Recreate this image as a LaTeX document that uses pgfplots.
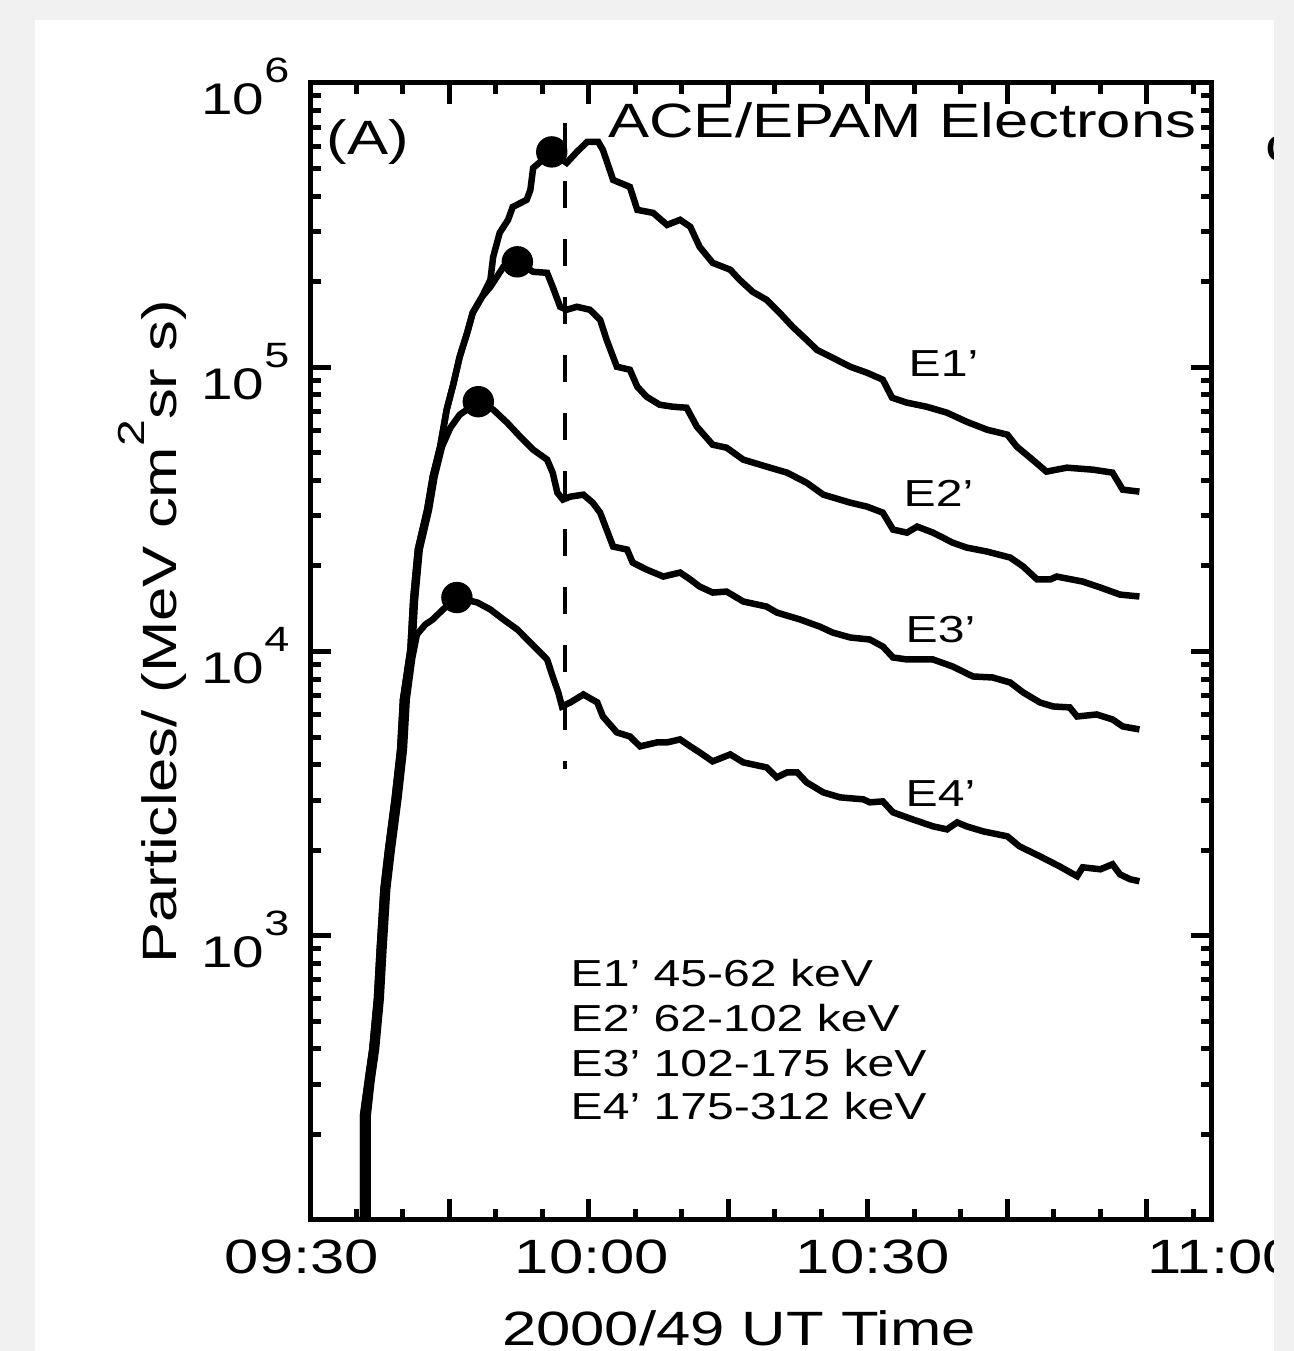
\documentclass[border=0pt]{standalone}
\usepackage{fontspec}
\setmainfont{Liberation Sans}[FakeStretch=1.28]
\usepackage{pgfplots}
\usepackage{pgfplotstable}
\pgfplotsset{compat=1.18}

\definecolor{bgray}{RGB}{241,241,241}
\newcommand\lbl{\fontsize{13.7}{16}\selectfont}
\newcommand\sml{\fontsize{10.7}{13}\selectfont}
\newcommand\sups[1]{\raisebox{3.2mm}{\fontsize{10.7}{12}\selectfont #1}}
\newcommand\ylab[1]{\fontsize{12.6}{15}\selectfont 10\raisebox{3.2mm}{\fontsize{10}{12}\selectfont #1}}

% t = minutes after 09:30 UT, flux in particles/(MeV cm^2 sr s)
\pgfplotstableread{
t flux
5.4 73
5.7 103
5.7 232
6.2 306
6.7 399
7.2 598
7.5 897
7.9 1456
8.4 2014
9.1 3020
9.7 4529
10.0 6776
10.8 10160
11.1 15240
11.6 22860
12.6 31550
13.2 41220
14.0 52600
14.7 70950
15.4 86800
16.1 108900
16.9 132100
17.5 155500
18.5 177000
19.4 203100
19.7 244500
20.4 297200
21.3 330100
21.8 366500
23.3 388000
23.7 420700
24.0 502500
26.0 572200
27.6 523600
28.7 572200
29.8 620400
31.0 620400
31.5 581600
32.6 456000
34.4 430900
35.2 357800
36.9 349200
38.4 316700
39.8 330100
40.9 311900
41.9 265200
43.3 233000
45.2 220300
46.2 203100
47.6 184300
49.1 172700
50.5 155500
51.9 138800
53.4 124900
54.5 115200
56.2 108000
58.1 100400
59.9 95660
61.6 90400
62.6 78130
64.2 75050
66.3 72640
68.5 69210
70.6 64340
72.8 60310
75.0 57910
76.0 52600
77.7 47300
79.2 42930
81.4 44330
84.2 43620
86.3 42580
87.4 37100
89.2 36510
}\eone

\pgfplotstableread{
t flux
5.4 73
5.7 103
5.7 232
6.2 306
6.7 399
7.2 598
7.5 897
7.9 1456
8.4 2014
9.1 3020
9.7 4529
10.0 6776
10.8 10160
11.1 15240
11.6 22860
12.6 31550
13.2 41220
14.0 52600
14.7 70950
15.4 86800
16.1 108900
16.9 132100
17.5 155500
18.5 177000
19.4 191900
20.1 208000
20.8 225600
22.3 234900
24.0 216600
25.5 214900
26.1 191900
26.9 163200
27.6 159300
28.7 163200
30.1 159300
31.2 146900
31.9 124900
33.0 100400
34.4 98000
35.2 85410
36.2 78760
37.6 73830
39.0 72640
40.5 72050
41.6 61800
43.3 53400
44.8 52120
46.6 47300
49.1 44700
51.3 42580
53.4 39260
55.2 35630
58.1 33390
59.9 32330
61.6 30800
62.7 26840
64.2 26190
65.3 27500
67.0 26190
69.1 24160
70.6 23210
72.8 22470
75.3 21400
76.7 19900
78.2 17920
79.6 17920
80.3 18350
83.1 17620
85.0 16790
87.1 15860
89.2 15610
}\etwo

\pgfplotstableread{
t flux
5.6 73
5.9 103
5.9 232
6.4 306
6.9 399
7.4 598
7.7 897
8.1 1456
8.6 2014
9.3 3020
9.9 4529
10.2 6776
11.0 10160
11.3 15240
11.8 22860
12.8 31550
13.4 41220
14.2 52600
15.1 61290
16.1 68080
18.1 75650
19.7 70950
21.2 63820
22.6 56990
24.0 51290
25.5 47300
26.1 42580
26.6 36220
27.2 34220
28.0 35060
29.4 35630
30.4 33390
31.2 30800
31.9 26840
32.6 23390
34.1 22830
34.7 20550
36.2 19420
38.0 18350
39.8 18960
40.9 17920
41.9 16920
43.3 16120
44.8 16250
46.6 14990
49.1 14390
50.2 13710
52.7 12960
54.8 12240
56.2 11660
58.1 11200
60.2 11020
61.6 10410
62.7 9526
64.2 9373
67.0 9373
69.1 8859
71.3 8168
73.4 8102
75.3 7780
76.7 7176
78.5 6618
79.9 6408
81.7 6357
82.5 5907
84.6 6004
86.3 5768
87.4 5450
89.2 5319
}\ethree

\pgfplotstableread{
t flux
5.9 73
6.2 103
6.2 232
6.6 306
7.1 399
7.6 598
7.9 897
8.3 1456
8.8 2014
9.5 3020
10.1 4529
10.4 6776
11.0 9500
11.5 11480
12.4 12440
13.2 12960
14.3 14050
15.8 15480
18.0 14870
19.4 14050
20.8 12960
22.3 11950
23.7 10750
25.5 9373
26.1 8168
26.7 7176
27.1 6408
28.0 6618
29.4 7061
30.9 6618
31.5 5907
33.0 5191
34.4 5025
35.5 4636
37.3 4787
38.4 4787
39.8 4906
40.9 4636
41.9 4416
43.3 4106
45.2 4345
46.6 4072
49.1 3911
50.2 3607
51.3 3756
52.4 3756
53.4 3464
55.2 3194
57.0 3068
59.5 3019
60.2 2946
61.6 2970
62.7 2717
64.8 2567
67.0 2426
68.5 2367
69.6 2505
70.6 2426
72.4 2329
75.0 2237
76.3 2063
78.5 1903
80.6 1755
82.5 1619
83.1 1741
85.0 1713
86.3 1784
87.1 1645
88.2 1580
89.2 1555
}\efour

\begin{document}
\begin{tikzpicture}
\fill[bgray] (-31mm,-13.1mm) rectangle (98.4mm,122mm);
\fill[white] (-27.5mm,-13.1mm) rectangle (96.4mm,120mm);
\begin{axis}[
  width=90.2mm, height=113.7mm, scale only axis,
  xmin=0, xmax=97,
  ymode=log, ymin=100, ymax=1e6,
  xtick={0,15,30,45,60,75,90},
  minor xtick={5,10,20,25,35,40,50,55,65,70,80,85,95},
  xticklabels={,,,,,,},
  ytick={100,1000,10000,100000,1000000},
  yticklabels={{},{\ylab{3}},{\ylab{4}},{\ylab{5}},{\ylab{6}}},
  minor ytick={200,300,400,500,600,700,800,900,
    2000,3000,4000,5000,6000,7000,8000,9000,
    20000,30000,40000,50000,60000,70000,80000,90000,
    200000,300000,400000,500000,600000,700000,800000,900000},
  yticklabel style={anchor=base east, inner sep=0pt, xshift=-2mm, yshift=-3.2mm},
  major tick length=2.1mm,
  minor tick length=1.1mm,
  tick style={black, line width=0.5mm},
  axis line style={line width=0.5mm},
]
\addplot[black, line width=0.65mm] table[x=t, y=flux] {\eone};
\addplot[black, line width=0.65mm] table[x=t, y=flux] {\etwo};
\addplot[black, line width=0.65mm] table[x=t, y=flux] {\ethree};
\addplot[black, line width=0.65mm] table[x=t, y=flux] {\efour};
% onset peaks
\addplot[only marks, mark=*, mark size=1.5mm, black] coordinates {
  (26.0,572200) (22.3,234900) (18.1,75650) (15.8,15480)
};
% shock / reference time
\addplot[black, line width=0.4mm, dash pattern=on 2.7mm off 3.1mm] coordinates {
  (27.4,723000) (27.4,3846)
};
\end{axis}

\node[anchor=base, font=\lbl] at (-0.8mm,-5.3mm) {09:30};
\node[anchor=base, font=\lbl] at (28.2mm,-5.3mm) {10:00};
\node[anchor=base, font=\lbl] at (56.3mm,-5.3mm) {10:30};
\node[anchor=base, font=\lbl] at (91.2mm,-5.3mm) {11:00};
\node[anchor=base, font=\lbl] at (42.9mm,-12.5mm) {2000/49 UT Time};
\node[rotate=90, font=\lbl] at (-15.8mm,58.8mm) {Particles/ (MeV cm\sups{2}sr s)};

\node[anchor=base west, font=\lbl, inner sep=0pt] at (1.6mm,106.5mm) {(A)};
\node[anchor=base east, font=\lbl, inner sep=0pt] at (88.7mm,108.2mm) {ACE/EPAM Electrons};

\node[anchor=base west, font=\sml, inner sep=0pt] at (59.8mm,84.3mm) {E1'};
\node[anchor=base west, font=\sml, inner sep=0pt] at (59.3mm,71.3mm) {E2'};
\node[anchor=base west, font=\sml, inner sep=0pt] at (59.5mm,57.7mm) {E3'};
\node[anchor=base west, font=\sml, inner sep=0pt] at (59.5mm,41.3mm) {E4'};

\node[anchor=base west, font=\sml, inner sep=0pt] at (26mm,23.3mm) {E1' 45-62 keV};
\node[anchor=base west, font=\sml, inner sep=0pt] at (26mm,18.8mm) {E2' 62-102 keV};
\node[anchor=base west, font=\sml, inner sep=0pt] at (26mm,14.3mm) {E3' 102-175 keV};
\node[anchor=base west, font=\sml, inner sep=0pt] at (26mm,10.0mm) {E4' 175-312 keV};

\node[anchor=base west, font=\lbl, inner sep=0pt] at (95.5mm,105.8mm) {c};

\fill[bgray] (96.4mm,-13.1mm) rectangle (98.6mm,122mm);
\pgfresetboundingbox
\path[use as bounding box] (-31mm,-13.1mm) rectangle (98.4mm,122mm);
\end{tikzpicture}
\end{document}
